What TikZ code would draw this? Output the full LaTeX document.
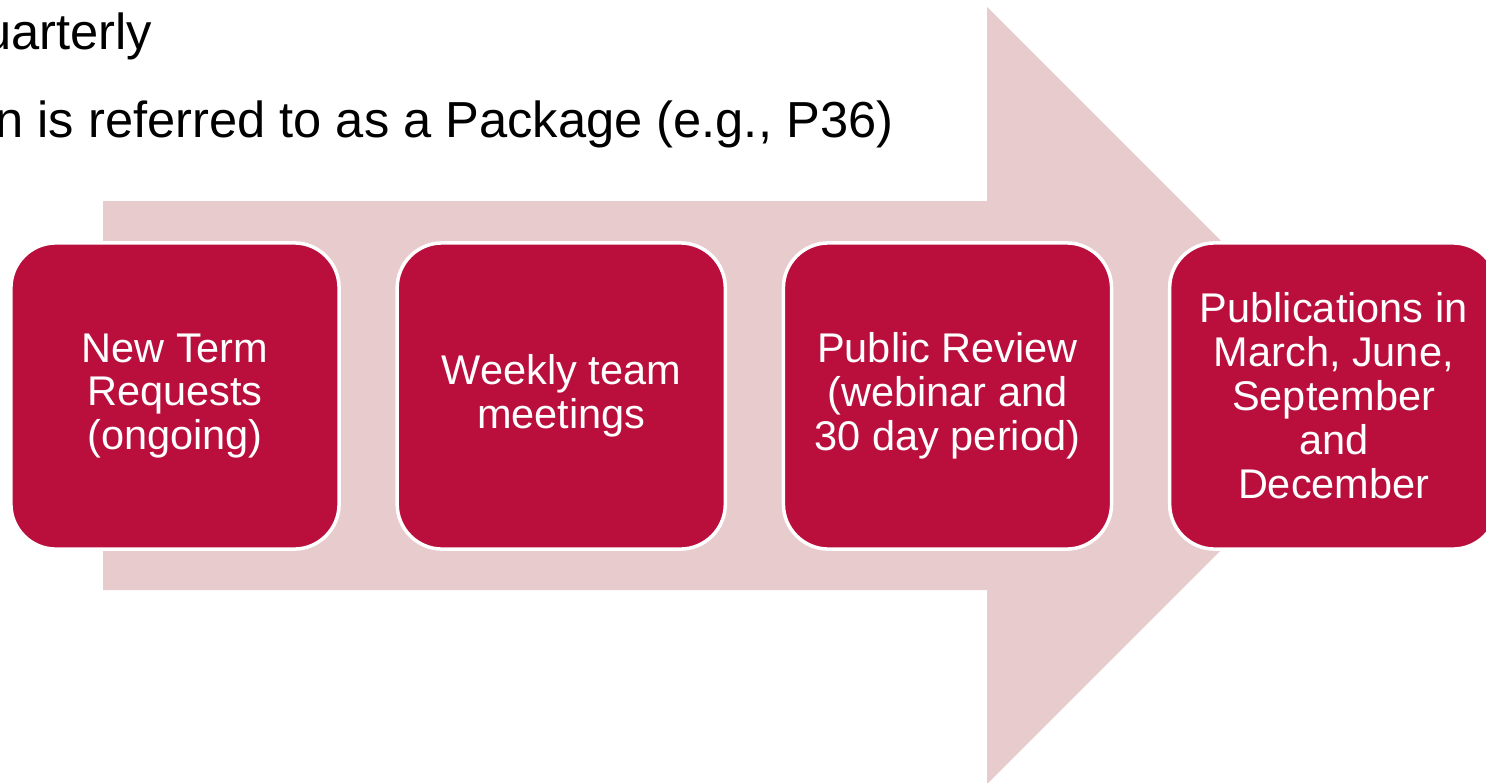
\documentclass[tikz,border=0pt]{standalone}
\usepackage{xcolor}
\usepackage{tikz}
\usepackage{fontspec}
\setmainfont{Liberation Sans}
\usetikzlibrary{positioning}
\definecolor{pkgred}{HTML}{BA0F3C}
\definecolor{pkgpink}{HTML}{E7CBCD}

\begin{document}
\begin{tikzpicture}[x=0.01cm, y=-0.01cm,
    stage/.style={rectangle, rounded corners=0.45cm, fill=pkgred, draw=white, line width=1pt,
        minimum width=3.28cm, minimum height=3.06cm, inner sep=0pt,
        text=white, align=center, font=\fontsize{11.8}{12.5}\selectfont},
    note/.style={anchor=base east, inner sep=0pt, font=\fontsize{14.4}{17}\selectfont}]
            \useasboundingbox (0, 0) rectangle (1486, 782);
            \clip (0, 0) rectangle (1486, 782);
            \node[note] (quarterly) at (153, 50) {uarterly};
            \node[note] (package) at (894, 137) {n is referred to as a Package (e.g., P36)};
            \fill[pkgpink] (103, 201) coordinate(tail) -- (987, 201) -- (987, 7) -- (1375.5, 395.5) coordinate(tip) -- (987, 784) -- (987, 590) -- (103, 590) -- cycle;
            \node[stage] (request) at (175, 396) {New Term\\Requests\\(ongoing)};
            \node[stage, right=0.545cm of request] (meeting) {Weekly team\\meetings};
            \node[stage, right=0.545cm of meeting] (review) {Public Review\\(webinar and\\30 day period)};
            \node[stage, right=0.545cm of review] (publish) {Publications in\\March, June,\\September\\and\\December};
        \end{tikzpicture}
\end{document}
